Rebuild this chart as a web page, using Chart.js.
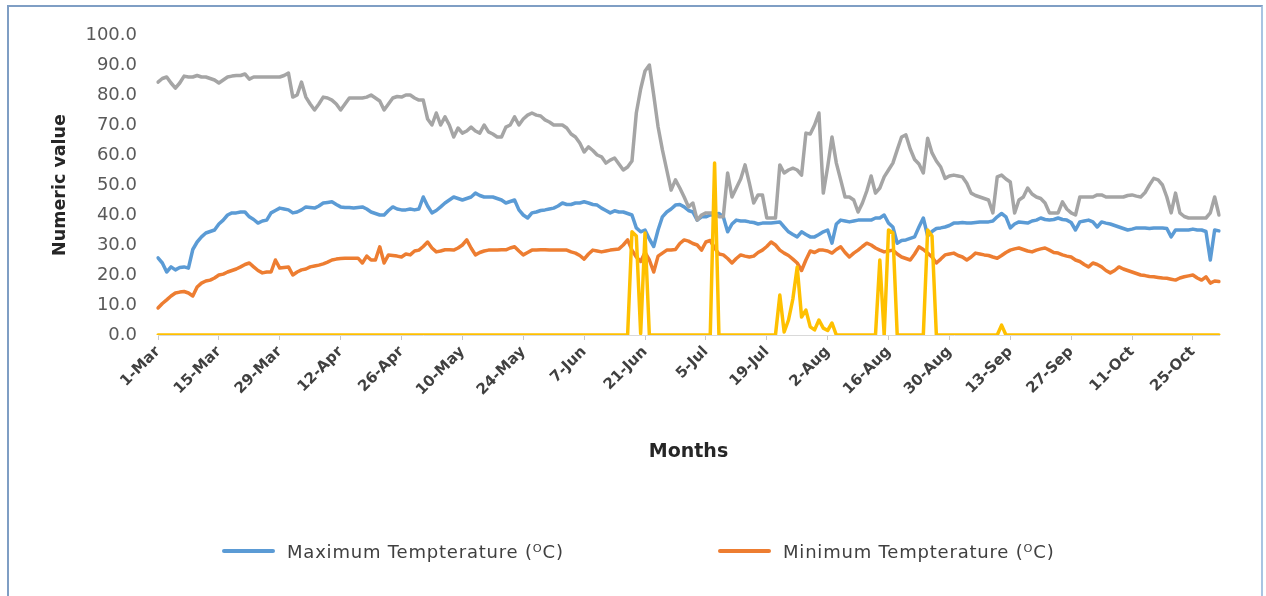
<!DOCTYPE html>
<html>
<head>
<meta charset="utf-8">
<script src="https://cdn.jsdelivr.net/npm/chart.js@4.4.1/dist/chart.umd.min.js"></script>
<style>
  html, body { margin: 0; padding: 0; background: #ffffff; }
  #wrap { position: relative; width: 1266px; height: 596px; overflow: hidden; background: #ffffff; }
  #frame { position: absolute; left: 7px; top: 5px; width: 1256px; height: 640px; box-sizing: border-box;
           border: 2px solid #a9c4e2; border-top-color: #7f9ec4; border-left-color: #7f9ec4; }
  #chart { position: absolute; left: 0; top: 0; }
  .lg-item { position: absolute; top: 540px; height: 22px; display: flex; align-items: center;
             font-family: 'DejaVu Sans', sans-serif; font-size: 18px; letter-spacing: 0.8px; color: #404040; white-space: nowrap; }
  .lg-swatch { width: 53px; height: 4px; margin-right: 12px; border-radius: 2px; }
</style>
</head>
<body>
<div id="wrap">
  <div id="frame"></div>
  <canvas id="chart" width="1266" height="596"></canvas>
  <div id="legend"></div>
</div>
<script>
// ---- categories (daily, 1-Mar .. 31-Oct) ----
const monthNames = ['Mar', 'Apr', 'May', 'Jun', 'Jul', 'Aug', 'Sep', 'Oct'];
const monthDays = [31, 30, 31, 30, 31, 31, 30, 31];
const categories = [];
monthNames.forEach((m, k) => { for (let d = 1; d <= monthDays[k]; d++) categories.push(d + '-' + m); });

// ---- tick labels shown on the x axis ----
const tickLabels = ['1-Mar', '15-Mar', '29-Mar', '12-Apr', '26-Apr', '10-May', '24-May', '7-Jun', '21-Jun',
  '5-Jul', '19-Jul', '2-Aug', '16-Aug', '30-Aug', '13-Sep', '27-Sep', '11-Oct', '25-Oct'];
const yTicks = [0, 10, 20, 30, 40, 50, 60, 70, 80, 90, 100];

// ---- series ----
const maxTemp = [
  25.7, 24, 21, 22.7, 21.7, 22.5, 22.7, 22.3, 28.5, 31,
  32.7, 34, 34.5, 35, 37, 38.3, 40, 40.7, 40.7, 41,
  41, 39.4, 38.5, 37.3, 38, 38.3, 40.7, 41.5, 42.3, 42,
  41.7, 40.7, 41, 41.7, 42.7, 42.5, 42.3, 43, 44, 44.2,
  44.4, 43.5, 42.7, 42.5, 42.5, 42.3, 42.5, 42.7, 42, 41,
  40.5, 40, 40, 41.5, 42.7, 42, 41.7, 41.7, 42, 41.7,
  42, 46, 43, 40.7, 41.5, 42.7, 44, 45, 46, 45.5,
  45, 45.5, 46, 47.3, 46.5, 46, 46, 46, 45.5, 45,
  44, 44.5, 45, 41.7, 40, 39, 40.7, 41, 41.5, 41.7,
  42, 42.3, 43, 44, 43.5, 43.5, 44, 44, 44.4, 44,
  43.5, 43.3, 42.3, 41.5, 40.7, 41.4, 41, 41, 40.5, 40,
  35.7, 34.4, 35, 32, 29.5, 35, 39.4, 41, 42, 43.3,
  43.5, 42.7, 41.5, 41, 38.3, 39.4, 39.4, 40, 40, 40.5,
  39.4, 34.4, 37, 38.3, 38, 38, 37.7, 37.5, 37, 37.3,
  37.3, 37.3, 37.5, 37.7, 36, 34.4, 33.5, 32.7, 34.4, 33.5,
  32.7, 32.7, 33.5, 34.4, 35, 30.6, 37, 38.3, 38, 37.7,
  38, 38.3, 38.3, 38.3, 38.3, 39, 39, 40, 37.3, 36,
  30.6, 31.5, 31.7, 32.2, 32.7, 36, 39, 33, 34.5, 35.5,
  35.7, 36, 36.5, 37.3, 37.3, 37.5, 37.3, 37.3, 37.5, 37.7,
  37.7, 37.7, 38, 39.4, 40.5, 39.4, 35.7, 37, 37.7, 37.5,
  37.3, 38, 38.3, 39, 38.5, 38.3, 38.5, 39, 38.5, 38.3,
  37.5, 35, 37.7, 38, 38.3, 37.7, 36, 37.7, 37.3, 37,
  36.5, 36, 35.5, 35, 35.3, 35.7, 35.7, 35.7, 35.5, 35.7,
  35.7, 35.7, 35.5, 32.7, 35, 35, 35, 35, 35.3, 35,
  35, 34.5, 25, 35, 34.7
];

const minTemp = [
  9, 10.5, 11.7, 13, 14, 14.3, 14.5, 14, 13, 16,
  17.3, 18, 18.3, 19, 20, 20.3, 21, 21.5, 22, 22.7,
  23.5, 24, 22.7, 21.5, 20.7, 21, 21, 25, 22.3, 22.5,
  22.7, 20, 21, 21.7, 22, 22.7, 23, 23.3, 23.7, 24.3,
  25, 25.3, 25.5, 25.6, 25.6, 25.6, 25.6, 24, 26.3, 25,
  25, 29.4, 24, 26.7, 26.5, 26.3, 26, 27, 26.7, 28,
  28.3, 29.5, 31, 29, 27.7, 28, 28.4, 28.4, 28.3, 29,
  30, 31.7, 29, 26.7, 27.5, 28, 28.3, 28.3, 28.3, 28.4,
  28.4, 29, 29.4, 28, 26.7, 27.5, 28.3, 28.3, 28.4, 28.4,
  28.3, 28.3, 28.3, 28.3, 28.3, 27.7, 27.3, 26.5, 25.3, 27,
  28.3, 28, 27.7, 28, 28.3, 28.5, 28.7, 30, 31.7, 28.3,
  26, 24.5, 27.5, 25, 21, 26.3, 27.3, 28.3, 28.3, 28.5,
  30.5, 31.7, 31.3, 30.5, 30, 28.3, 31, 31.5, 29, 27,
  26.7, 25.5, 24, 25.5, 26.7, 26.3, 26, 26.3, 27.5, 28.3,
  29.5, 31, 30, 28.3, 27.3, 26.5, 25.3, 24, 21.5, 25,
  28, 27.5, 28.3, 28.3, 28, 27.3, 28.5, 29.4, 27.5, 26,
  27.3, 28.3, 29.5, 30.6, 30, 29, 28.3, 27.7, 28, 28.3,
  27, 26, 25.5, 25, 27, 29.4, 28.5, 27.3, 26, 24,
  25.3, 26.7, 27, 27.3, 26.5, 26, 25, 26, 27.3, 27,
  26.7, 26.5, 26, 25.6, 26.5, 27.5, 28.3, 28.7, 29, 28.5,
  28, 27.7, 28.3, 28.7, 29, 28.3, 27.5, 27.3, 26.7, 26.3,
  26, 25, 24.5, 23.5, 22.7, 24, 23.5, 22.7, 21.5, 20.7,
  21.5, 22.7, 22, 21.5, 21, 20.5, 20, 19.8, 19.5, 19.4,
  19.2, 19, 18.9, 18.6, 18.3, 19, 19.4, 19.7, 20, 19,
  18.3, 19.4, 17.3, 18, 17.8
];

const humidity = [
  84.3, 85.5, 86, 84, 82.3, 84, 86.3, 86, 86, 86.5,
  86, 86, 85.5, 85, 84, 85, 86, 86.3, 86.5, 86.5,
  87, 85.3, 86, 86, 86, 86, 86, 86, 86, 86.5,
  87.3, 79.3, 80, 84.3, 79.3, 77, 75, 77, 79.3, 79,
  78.3, 77, 75, 77, 79, 79, 79, 79, 79.3, 80,
  79, 78, 75, 77, 79, 79.5, 79.3, 80, 80, 79,
  78.3, 78.3, 72, 70, 74, 70, 72.7, 70, 66, 69,
  67.3, 68, 69.3, 68, 67.3, 70, 67.7, 67, 66, 66,
  69.3, 70, 72.7, 70, 72, 73.3, 74, 73.3, 73, 71.7,
  71, 70, 70, 70, 69, 67, 66, 64, 61, 62.7,
  61.5, 60, 59.4, 57.3, 58.3, 59, 57, 55, 56, 58,
  74, 82, 88, 90, 80, 69.4, 61.7, 55, 48.3, 51.7,
  49, 46, 42.7, 44, 38.3, 40, 40.7, 40.7, 40.7, 39.4,
  39.4, 54, 46, 49, 52, 56.7, 50.6, 44, 46.7, 46.7,
  39, 39, 39, 56.7, 54, 55, 55.6, 55, 53.3, 67.3,
  67, 70, 74, 47.3, 56, 66, 57.3, 51.7, 46, 46,
  45, 41, 44, 48, 53, 47.3, 49, 52.7, 55, 57.3,
  61.7, 66, 66.7, 62, 58.5, 57, 54, 65.6, 60.7, 58,
  56, 52.2, 53, 53.3, 53, 52.7, 50.6, 47.3, 46.5, 46,
  45.5, 45, 40.7, 52.7, 53.3, 52, 51, 40.7, 45, 46,
  49, 47, 46, 45.5, 44, 40.7, 40.7, 40.7, 44.4, 42,
  40.7, 40, 46, 46, 46, 46, 46.7, 46.7, 46, 46,
  46, 46, 46, 46.5, 46.7, 46.3, 46, 47.5, 50, 52.2,
  51.7, 50, 46, 40.7, 47.3, 40.7, 39.5, 39, 39, 39,
  39, 39, 40.7, 46, 40
];

const rainfall = [
  0, 0, 0, 0, 0, 0, 0, 0, 0, 0,
  0, 0, 0, 0, 0, 0, 0, 0, 0, 0,
  0, 0, 0, 0, 0, 0, 0, 0, 0, 0,
  0, 0, 0, 0, 0, 0, 0, 0, 0, 0,
  0, 0, 0, 0, 0, 0, 0, 0, 0, 0,
  0, 0, 0, 0, 0, 0, 0, 0, 0, 0,
  0, 0, 0, 0, 0, 0, 0, 0, 0, 0,
  0, 0, 0, 0, 0, 0, 0, 0, 0, 0,
  0, 0, 0, 0, 0, 0, 0, 0, 0, 0,
  0, 0, 0, 0, 0, 0, 0, 0, 0, 0,
  0, 0, 0, 0, 0, 0, 0, 0, 0, 34.4,
  33, 0.5, 34, 0, 0, 0, 0, 0, 0, 0,
  0, 0, 0, 0, 0, 0, 0, 0, 57.3, 0,
  0, 0, 0, 0, 0, 0, 0, 0, 0, 0,
  0, 0, 0, 13.3, 1, 5, 12, 22.7, 6, 8.3,
  2.7, 1.7, 5, 2.3, 1.5, 4, 0, 0, 0, 0,
  0, 0, 0, 0, 0, 0, 25, 0, 35, 34,
  0, 0, 0, 0, 0, 0, 0, 35, 33, 0,
  0, 0, 0, 0, 0, 0, 0, 0, 0, 0,
  0, 0, 0, 0, 3.3, 0, 0, 0, 0, 0,
  0, 0, 0, 0, 0, 0, 0, 0, 0, 0,
  0, 0, 0, 0, 0, 0, 0, 0, 0, 0,
  0, 0, 0, 0, 0, 0, 0, 0, 0, 0,
  0, 0, 0, 0, 0, 0, 0, 0, 0, 0,
  0, 0, 0, 0, 0
];

const seriesLabels = ['Maximum Tempterature (ᴼC)', 'Minimum Tempterature (ᴼC)', 'Relative Humidity (%)', 'Rainfall (mm)'];
const seriesColors = ['#5b9bd5', '#ed7d31', '#a5a5a5', '#ffc000'];
const legendShown = [0, 1];

const FONT = "'DejaVu Sans', sans-serif";

const chart = new Chart(document.getElementById('chart').getContext('2d'), {
  type: 'line',
  data: {
    labels: categories,
    datasets: [
      { label: seriesLabels[0], data: maxTemp, borderColor: seriesColors[0], backgroundColor: seriesColors[0], order: 3 },
      { label: seriesLabels[1], data: minTemp, borderColor: seriesColors[1], backgroundColor: seriesColors[1], order: 2 },
      { label: seriesLabels[2], data: humidity, borderColor: seriesColors[2], backgroundColor: seriesColors[2], order: 1 },
      { label: seriesLabels[3], data: rainfall, borderColor: seriesColors[3], backgroundColor: seriesColors[3], order: 0 }
    ]
  },
  options: {
    responsive: false,
    animation: false,
    events: [],
    elements: {
      line: { borderWidth: 3.5, tension: 0, borderJoinStyle: 'round', borderCapStyle: 'round', fill: false },
      point: { radius: 0, hoverRadius: 0 }
    },
    layout: { padding: { top: 35, right: 47, bottom: 131, left: 0 } },
    plugins: { legend: { display: false }, tooltip: { enabled: false } },
    scales: {
      x: {
        type: 'category',
        offset: false,
        afterFit(scale) { scale.height = 130; },
        grid: {
          drawOnChartArea: false,
          drawTicks: true,
          tickLength: 5,
          lineWidth: 1,
          color: (c) => (tickLabels.includes(categories[c.index]) ? '#c8c8c8' : 'rgba(0,0,0,0)')
        },
        border: { display: true, color: '#d9d9d9', width: 1 },
        ticks: {
          autoSkip: false,
          maxRotation: 45,
          minRotation: 45,
          padding: 3,
          color: '#404040',
          font: { family: FONT, size: 15, weight: 'bold' },
          callback(value, index) {
            const l = categories[index];
            return tickLabels.includes(l) ? l : '';
          }
        },
        title: {
          display: true,
          text: 'Months',
          color: '#262626',
          font: { family: FONT, size: 19, weight: 'bold' },
          padding: { top: 0, bottom: 2 }
        }
      },
      y: {
        min: yTicks[0],
        max: yTicks[yTicks.length - 1],
        afterFit(scale) { scale.width = 158; },
        afterBuildTicks(scale) { scale.ticks = yTicks.map(v => ({ value: v })); },
        grid: { display: false, drawTicks: false },
        border: { display: false },
        ticks: {
          padding: 21,
          color: '#595959',
          font: { family: FONT, size: 18 },
          callback: (v) => Number(v).toFixed(1)
        },
        title: {
          display: true,
          text: 'Numeric value',
          color: '#262626',
          font: { family: FONT, size: 17.5, weight: 'bold' },
          padding: { top: 50, bottom: 0 }
        }
      }
    }
  }
});

// ---- HTML legend (only the two temperature series are visible in the reference) ----
const legendLeft = [222, 718];
const legendEl = document.getElementById('legend');
legendShown.forEach((di, k) => {
  const ds = chart.data.datasets[di];
  const item = document.createElement('div');
  item.className = 'lg-item';
  item.style.left = legendLeft[k] + 'px';
  const sw = document.createElement('span');
  sw.className = 'lg-swatch';
  sw.style.background = ds.borderColor;
  const tx = document.createElement('span');
  tx.textContent = ds.label;
  item.appendChild(sw);
  item.appendChild(tx);
  legendEl.appendChild(item);
});
</script>
</body>
</html>
